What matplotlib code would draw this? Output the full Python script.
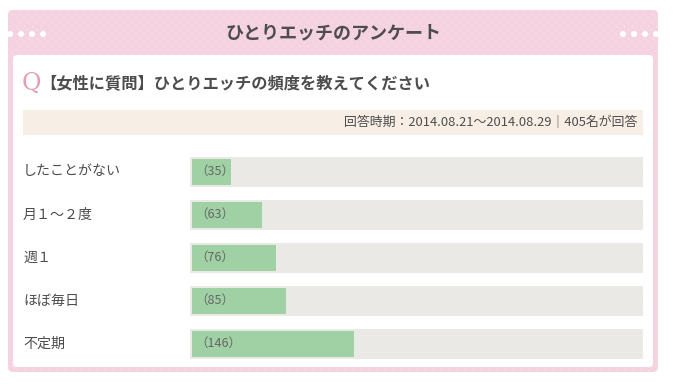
import numpy as np
import matplotlib
matplotlib.use("Agg")
import matplotlib.pyplot as plt
from matplotlib.patches import FancyBboxPatch, Rectangle
from matplotlib.transforms import blended_transform_factory

plt.rcParams['font.family'] = ['Noto Sans CJK JP', 'DejaVu Sans']

# ---- data ----
categories = ["したことがない", "月１～２度", "週１", "ほぼ毎日", "不定期"]
values = [35, 63, 76, 85, 146]
total = 405
header_title = "ひとりエッチのアンケート"
question = "【女性に質問】ひとりエッチの頻度を教えてください"
info_text = "回答時期：2014.08.21～2014.08.29｜405名が回答"

PINK = "#f4d2df"
PINK_DOT = "#f8e2ea"
TRACK = "#ebe9e5"
TRACK_DOT = "#f2f1ee"
GREEN = "#9fd1a4"
TEXT = "#4d4d4d"

W, H = 679, 384
fig = plt.figure(figsize=(W / 100, H / 100), dpi=100)
fig.patch.set_facecolor("white")
ax0 = fig.add_axes([0, 0, 1, 1])
ax0.set_xlim(0, W)
ax0.set_ylim(H, 0)
ax0.axis("off")

# outer pink box
ax0.add_patch(FancyBboxPatch((8, 10), 650, 362, boxstyle="round,pad=0,rounding_size=5",
                             fc=PINK, ec="none", zorder=1))
# dot pattern on pink
gx, gy = np.meshgrid(np.arange(12, 656, 8), np.arange(14, 372, 8))
gx2 = gx + 4
gy2 = gy + 4
ax0.scatter(np.r_[gx.ravel(), gx2.ravel()], np.r_[gy.ravel(), gy2.ravel()], s=1.2,
            c=PINK_DOT, linewidths=0, zorder=1.5)
# white panel
ax0.add_patch(FancyBboxPatch((13, 55), 640, 312, boxstyle="round,pad=0,rounding_size=4",
                             fc="white", ec="none", zorder=2))
# header dots
for cx in [10, 21, 32, 43]:
    ax0.add_patch(plt.Circle((cx, 34), 3.0, fc="white", ec="none", zorder=3))
for cx in [623, 634, 645, 656]:
    ax0.add_patch(plt.Circle((cx, 34), 3.0, fc="white", ec="none", zorder=3))
ax0.text(333, 33, header_title, ha="center", va="center", fontsize=13,
         fontweight="bold", color=TEXT, zorder=3)

# question
ax0.text(22, 83, "Q", ha="left", va="center", fontsize=17, color="#e59bb6",
         family=["DejaVu Serif"], zorder=3)
ax0.text(40, 83, question, ha="left", va="center", fontsize=11.7, fontweight="bold",
         color=TEXT, zorder=3)

# info bar
ax0.add_patch(Rectangle((23, 110), 620, 25, fc="#f7efe6", ec="none", zorder=3))
ax0.text(637, 122.5, info_text, ha="right", va="center", fontsize=9.3, color=TEXT, zorder=4)

# ---- bars ----
px_per_unit = (641 - 192) / total
x0 = -2 / px_per_unit
x1 = (643 - 192) / px_per_unit
top, bottom = 150, 365
ax = fig.add_axes([190 / W, 1 - bottom / H, (643 - 190) / W, (bottom - top) / H])
ax.set_xlim(x0, x1)
n = len(categories)
ax.set_ylim(n - 0.5, -0.5)
ax.axis("off")
ax.patch.set_alpha(0)
ypos = np.arange(n)
ax.barh(ypos, x1 - x0, left=x0, height=30 / 43, color=TRACK, zorder=1)
# dot pattern on track
for y in ypos:
    dx = np.arange(x0 + 4 / px_per_unit, x1, 8 / px_per_unit)
    for k, off in enumerate([-0.2, 0.0, 0.2]):
        xs = dx + (4 / px_per_unit if k % 2 else 0)
        ax.scatter(xs[xs < x1], np.full((xs < x1).sum(), y + off), s=1.2, c=TRACK_DOT,
                   linewidths=0, zorder=1.5)
ax.barh(ypos, values, left=0, height=26 / 43, color=GREEN, zorder=2)
for y, v in zip(ypos, values):
    ax.text(3 / px_per_unit, y, f"（{v}）", ha="left", va="center", fontsize=9,
            color="#666666", zorder=3)

tr = blended_transform_factory(ax0.transData, ax.transData)
for y, c in zip(ypos, categories):
    ax.text(23, y, c, transform=tr, ha="left", va="center", fontsize=10.1, color=TEXT)

fig.savefig("out.png", dpi=100)
